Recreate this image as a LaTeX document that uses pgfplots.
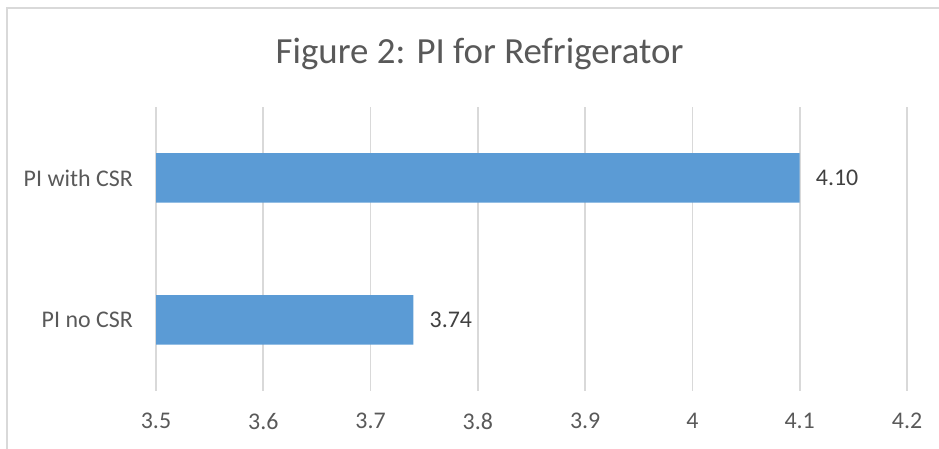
\documentclass[border=0pt]{standalone}
\usepackage{fontspec}
\setmainfont{Carlito}
\usepackage{pgfplots}
\pgfplotsset{compat=1.18}
\definecolor{barblue}{HTML}{5B9BD5}
\definecolor{gridgray}{HTML}{D9D9D9}
\definecolor{ticktext}{HTML}{595959}
\definecolor{labeltext}{HTML}{404040}
\begin{document}
\begin{tikzpicture}[x=1bp,y=1bp]
\path[use as bounding box] (0,0) rectangle (939,449);
\draw[gridgray, line width=1.6bp] (7,0) -- (7,441) -- (939,441);
\node[anchor=base, text=ticktext, font=\fontsize{37}{44}\selectfont, inner sep=0] at (479.5,385) {Figure 2: PI for Refrigerator};
\begin{axis}[at={(156bp,58bp)}, anchor=south west, scale only axis,
  width=751bp, height=284bp,
  xmin=3.5, xmax=4.2, ymin=-0.5, ymax=1.5,
  xbar, bar width=49.5bp,
  xtick={3.5,3.6,3.7,3.8,3.9,4,4.1,4.2},
  ytick={0,1}, yticklabels={PI no CSR,PI with CSR},
  xmajorgrids, major grid style={gridgray, line width=1.6bp},
  axis line style={draw=none}, major tick length=0,
  tick label style={font=\fontsize{24}{28}\selectfont, text=ticktext, inner sep=0},
  xticklabel style={anchor=north, yshift=-22bp},
  yticklabel style={anchor=east, xshift=-23bp},
  /pgf/number format/assume math mode=true,
  point meta=x,
  nodes near coords={\pgfmathprintnumber[fixed,fixed zerofill,precision=2,assume math mode=true]{\pgfplotspointmeta}},
  nodes near coords style={anchor=west, inner sep=0, xshift=16bp, font=\fontsize{24}{28}\selectfont, text=labeltext},
]
\addplot[fill=barblue, draw=none] coordinates {(3.74,0) (4.10,1)};
\end{axis}
\end{tikzpicture}
\end{document}
